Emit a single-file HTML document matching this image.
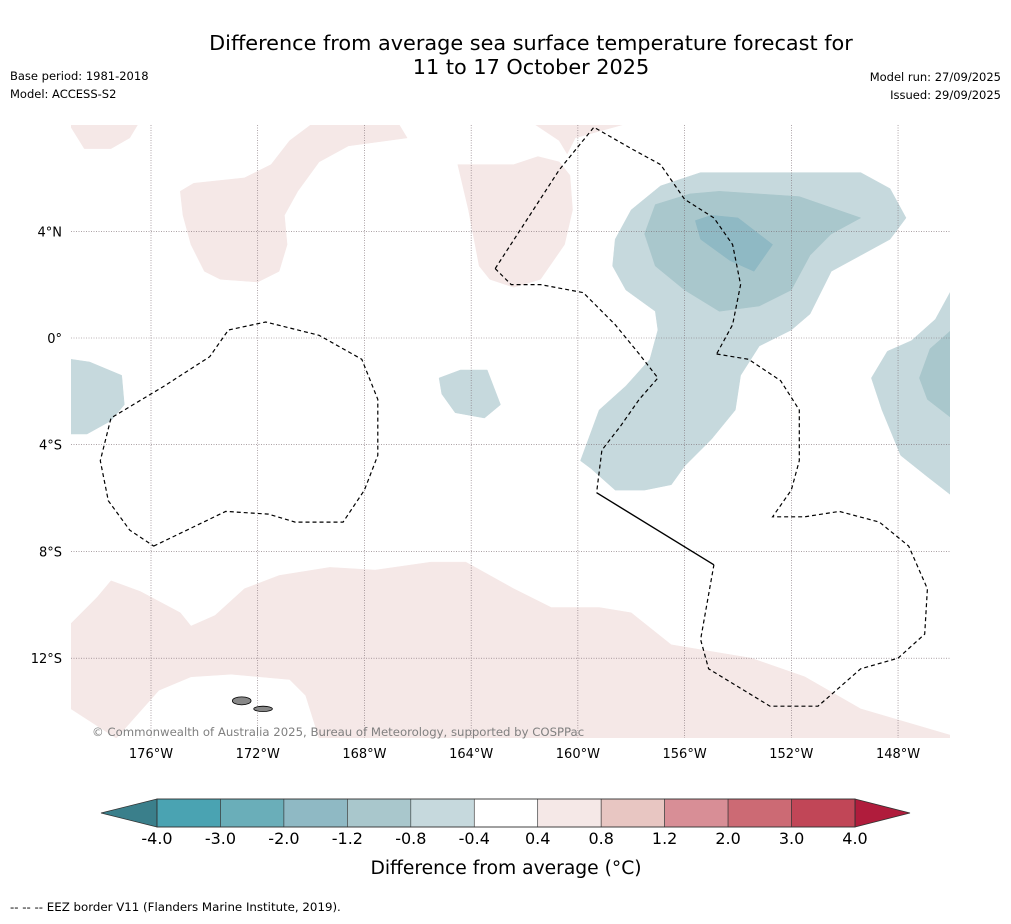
<!DOCTYPE html>
<html><head><meta charset="utf-8"><style>
body{margin:0;background:#fff;font-family:"Liberation Sans","DejaVu Sans",sans-serif;}
svg text{font-family:"DejaVu Sans","Liberation Sans",sans-serif;}
</style></head><body>
<svg id="c" width="1011" height="919" xmlns="http://www.w3.org/2000/svg">
<text x="531" y="50" text-anchor="middle" font-size="20.8">Difference from average sea surface temperature forecast for</text>
<text x="531" y="74" text-anchor="middle" font-size="20.8">11 to 17 October 2025</text>
<text x="10" y="80" font-size="11.5">Base period: 1981-2018</text>
<text x="10" y="98" font-size="11.5">Model: ACCESS-S2</text>
<text x="1001" y="81" font-size="11.5" text-anchor="end">Model run: 27/09/2025</text>
<text x="1001" y="99" font-size="11.5" text-anchor="end">Issued: 29/09/2025</text>
<g id="map"></g>
<g id="cbar"></g>
<text x="506" y="874" text-anchor="middle" font-size="18.7">Difference from average (°C)</text>
<text x="10" y="911" font-size="11.8">--  --  -- EEZ border V11 (Flanders Marine Institute, 2019).</text>
</svg>
<script>
const lonTicks=[-176,-172,-168,-164,-160,-156,-152,-148];
const latTicks=[4,0,-4,-8,-12];
const levels=[-4.0,-3.0,-2.0,-1.2,-0.8,-0.4,0.4,0.8,1.2,2.0,3.0,4.0];
const levelColors=["#4aa3b2","#6aaeb9","#8fb9c4","#a9c7cc","#c6d9dd","#ffffff","#f5e8e7","#e8c6c2","#d88e96","#cc6a74","#c14657"];
const pinkLight=[
[[-179,-10.7],[-178,-9.7],[-177.5,-9.1],[-176.4,-9.5],[-174.9,-10.3],[-174.5,-10.8],[-173.6,-10.4],[-172.5,-9.4],[-171.2,-8.9],[-169.3,-8.6],[-167.6,-8.7],[-165.5,-8.4],[-164.2,-8.4],[-162.4,-9.4],[-161,-10.1],[-159.2,-10.1],[-158,-10.3],[-156.5,-11.5],[-153.5,-12],[-151.5,-12.7],[-149.4,-13.9],[-146,-14.9],[-146,-15],[-169.7,-15],[-170.2,-13.4],[-170.8,-12.8],[-173,-12.6],[-174.5,-12.7],[-175.7,-13.2],[-177.3,-15],[-179,-13.9]],
[[-179,7.9],[-178.5,7.1],[-177.5,7.1],[-176.8,7.5],[-176.5,8],[-179,8]],
[[-170,8],[-170.8,7.4],[-171.5,6.5],[-172.5,6],[-174.4,5.8],[-174.9,5.5],[-174.8,4.6],[-174.5,3.5],[-174,2.5],[-173.4,2.2],[-172,2.1],[-171.2,2.5],[-170.9,3.5],[-171,4.6],[-170.5,5.5],[-169.7,6.6],[-168.6,7.2],[-166.4,7.5],[-166.7,8]],
[[-164.5,6.5],[-164.1,4.8],[-163.7,2.7],[-163.3,2.2],[-162.4,1.9],[-161.4,2.2],[-160.5,3.5],[-160.2,4.8],[-160.3,6.1],[-160.7,6.6],[-161.5,6.8],[-162.4,6.5]],
[[-161.6,8],[-160.7,7.4],[-160.4,6.9],[-160.1,7.5],[-158.3,8]]
];
const blueLight=[
[[-159.9,-4.6],[-159.2,-2.7],[-158.2,-1.8],[-157.3,-0.8],[-157,0.3],[-157.1,1],[-158.2,1.8],[-158.7,2.7],[-158.6,3.7],[-158,4.8],[-156.9,5.7],[-155.4,6.2],[-149.4,6.2],[-148.3,5.6],[-147.7,4.5],[-148.3,3.7],[-149.4,3.1],[-150.5,2.5],[-151.3,0.9],[-152,0.3],[-153.2,-0.3],[-153.9,-1.4],[-154.1,-2.7],[-155,-3.8],[-156,-4.8],[-156.5,-5.5],[-157.5,-5.7],[-158.6,-5.7],[-159.5,-4.9]],
[[-146,1.8],[-146.6,0.7],[-147.5,-0.1],[-148.4,-0.5],[-149,-1.5],[-148.6,-2.7],[-147.9,-4.4],[-146.9,-5.2],[-146,-5.9]],
[[-179,-0.8],[-178.3,-0.9],[-177.1,-1.4],[-177,-2.5],[-177.5,-3.1],[-178.4,-3.6],[-179,-3.6]],
[[-165.2,-1.5],[-164.4,-1.2],[-163.4,-1.2],[-162.9,-2.5],[-163.5,-3],[-164.6,-2.8],[-165.1,-2.1]]
];
const blueMid=[
[[-157.5,3.9],[-157.1,5],[-155.8,5.4],[-154.7,5.5],[-151.7,5.3],[-149.4,4.5],[-150.5,3.9],[-151.3,3.1],[-152,1.8],[-153.2,1.2],[-154.7,1],[-156,1.8],[-157.1,2.7]],
[[-146,0.3],[-146.8,-0.4],[-147.2,-1.5],[-146.9,-2.3],[-146,-3]]
];
const blueDark=[
[[-155.6,4.4],[-155,4.6],[-154,4.5],[-152.7,3.5],[-153.4,2.5],[-154.3,2.9],[-155.4,3.7]]
];
const eezDashed=[
[[-175.9,-7.8],[-173.2,-6.5],[-171.6,-6.6],[-170.6,-6.9],[-168.8,-6.9],[-168,-5.7],[-167.5,-4.4],[-167.5,-2.3],[-168.1,-0.8],[-169.7,0.1],[-171.7,0.6],[-173.1,0.3],[-173.8,-0.7],[-175.5,-1.8],[-177.5,-3],[-177.9,-4.6],[-177.6,-6.1],[-176.8,-7.2],[-175.9,-7.8]],
[[-163.1,2.6],[-160.7,6.3],[-159.4,7.9],[-158,7.1],[-156.9,6.5],[-156,5.2],[-154.9,4.5],[-154.2,3.5],[-153.9,2],[-154.2,0.5],[-154.8,-0.6]],
[[-154.8,-0.6],[-153.6,-0.8],[-152.4,-1.6],[-151.7,-2.7],[-151.7,-4.6],[-152,-5.7],[-152.7,-6.7],[-151.5,-6.7],[-150.2,-6.5],[-148.7,-6.9],[-147.6,-7.8],[-146.9,-9.4],[-147,-11.1],[-148,-12],[-149.4,-12.4],[-151,-13.8],[-152.8,-13.8],[-155.1,-12.4],[-155.4,-11.3],[-154.9,-8.5]],
[[-163.1,2.6],[-162.5,2],[-161.4,2],[-159.8,1.7],[-158.6,0.5],[-157.7,-0.6],[-157,-1.5],[-157.7,-2.3],[-158.4,-3.3],[-159.1,-4.2],[-159.3,-5.8]]
];
const eezSolid=[[[-159.3,-5.8],[-154.9,-8.5]]];
const islands=[[-172.6,-13.6,0.35,0.15],[-171.8,-13.9,0.35,0.1]];

const NS="http://www.w3.org/2000/svg";
const X0=71,X1=950,Y0=125,Y1=738,K=26.68;
const xs=lon=>151+(lon+176)*K;
const ys=lat=>338-lat*K;
function mk(tag,attrs,parent){const e=document.createElementNS(NS,tag);for(const k in attrs)e.setAttribute(k,attrs[k]);parent.appendChild(e);return e;}
const svg=document.getElementById('c');
const defs=mk('defs',{},svg);
const cp=mk('clipPath',{id:'clip'},defs);
mk('rect',{x:X0,y:Y0,width:X1-X0,height:Y1-Y0},cp);
const map=document.getElementById('map');
const g=mk('g',{'clip-path':'url(#clip)'},map);
const pts=p=>p.map(q=>xs(q[0]).toFixed(1)+','+ys(q[1]).toFixed(1)).join(' ');
function fillSet(set,col,name){set.forEach(p=>{const e=mk('polygon',{points:pts(p),fill:col,stroke:col,'stroke-width':0.5},g);

});}
fillSet(pinkLight,levelColors[6],'anomaly-region-0.4-0.8');
fillSet(blueLight,levelColors[4],'anomaly-region-minus-0.8-0.4');
fillSet(blueMid,levelColors[3],'anomaly-region-minus-1.2-0.8');
fillSet(blueDark,levelColors[2],'anomaly-region-minus-2-1.2');
lonTicks.forEach(l=>{const e=mk('line',{x1:xs(l),x2:xs(l),y1:Y0,y2:Y1,stroke:'#7a6a70','stroke-width':0.6,'stroke-dasharray':'1,1.5'},g);


const t=mk('text',{x:xs(l),y:758,'text-anchor':'middle','font-size':13},map);t.textContent=(-l)+'°W';

});
latTicks.forEach(l=>{const e=mk('line',{x1:X0,x2:X1,y1:ys(l),y2:ys(l),stroke:'#7a6a70','stroke-width':0.6,'stroke-dasharray':'1,1.5'},g);


const t=mk('text',{x:62,y:ys(l)+5,'text-anchor':'end','font-size':13},map);t.textContent=l===0?'0°':Math.abs(l)+'°'+(l>0?'N':'S');

});
eezDashed.forEach(p=>{const e=mk('polyline',{points:pts(p),fill:'none',stroke:'#000','stroke-width':1.2,'stroke-dasharray':'4,3'},g);

});
eezSolid.forEach(p=>{const e=mk('polyline',{points:pts(p),fill:'none',stroke:'#000','stroke-width':1.4},g);

});
islands.forEach(d=>{const e=mk('ellipse',{cx:xs(d[0]),cy:ys(d[1]),rx:d[2]*K,ry:d[3]*K,fill:'#888',stroke:'#000','stroke-width':0.8},g);

});
const cr=mk('text',{x:92,y:736,'font-size':11.7,fill:'#808080'},map);cr.textContent='© Commonwealth of Australia 2025, Bureau of Meteorology, supported by COSPPac';


const cb=document.getElementById('cbar');
const CX0=157,CX1=855,CY0=799,CY1=827;
const cx=v=>{const i=levels.indexOf(v);return CX0+i*(CX1-CX0)/(levels.length-1);};
const la=mk('polygon',{points:`101,813 ${CX0},${CY0} ${CX0},${CY1}`,fill:'#3a7f8b',stroke:'#333','stroke-width':0.8},cb);


const ra=mk('polygon',{points:`910,813 ${CX1},${CY0} ${CX1},${CY1}`,fill:'#b01c3c',stroke:'#333','stroke-width':0.8},cb);


for(let i=0;i<levels.length-1;i++){const a=cx(levels[i]),b=cx(levels[i+1]);
const r=mk('rect',{x:a,y:CY0,width:b-a,height:CY1-CY0,fill:levelColors[i],stroke:'#333','stroke-width':0.6},cb);

}
mk('rect',{x:CX0,y:CY0,width:CX1-CX0,height:CY1-CY0,fill:'none',stroke:'#333','stroke-width':0.8},cb);
levels.forEach(v=>{const t=mk('text',{x:cx(v),y:844,'text-anchor':'middle','font-size':16},cb);t.textContent=v.toFixed(1);

});
</script>
</body></html>
